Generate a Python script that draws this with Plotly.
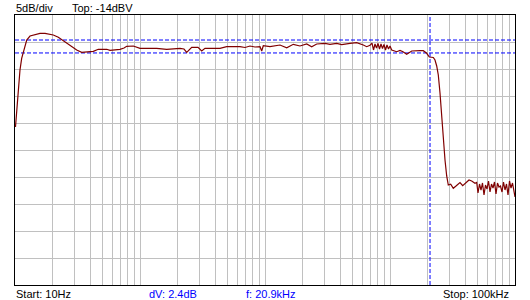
import plotly.graph_objects as go

# Frequency response (Hz, dBV)
freq_hz = [
    10.09, 10.28, 10.43, 10.63, 10.96, 11.31, 11.65, 12.02, 12.41, 13.18,
    14.01, 15.85, 17.38, 19.05, 20.25, 22.21, 24.34, 27.54, 31.16, 34.17,
    37.46, 42.31, 46.39, 54.15, 57.54, 63.10, 69.18, 74.47, 78.27, 88.41,
    100, 136.0, 163.5, 208.9, 224.9, 236.4, 259.2, 291.1, 311.6, 331.1,
    436.5, 493.8, 631, 691.8, 758.6, 831.8, 912, 941, 969, 1096,
    1318, 1492, 1585, 1684, 1905, 2156, 2363, 2592, 3020, 3311,
    3747, 4108, 4786, 5415, 6115, 6510, 6918, 7178, 7379, 7586,
    7798, 8017, 8241, 8472, 8710, 8954, 9204, 9462, 9727, 10000,
    10318, 11315, 12023, 12706, 13600, 14914, 17378, 18470, 19667, 20630,
    22208, 22909, 23637, 24343, 25119, 25918, 26694, 27542, 28414, 29264,
    30589, 32086, 33729, 36308, 38157, 41074, 42855, 45028, 47863, 49385,
    50580, 52000, 53460, 54950, 56490, 58080, 59700, 61380, 63100, 64860,
    66680, 68550, 70470, 72440, 74470, 76560, 78700, 80910, 83180, 85510,
    87900, 90360, 92900, 95500, 98170, 100000,
]
level_dbv = [
    -34.74, -31.96, -29.74, -27.28, -24.19, -22.02, -20.80, -19.56, -18.63, -17.89,
    -17.70, -17.39, -17.39, -17.52, -17.70, -18.13, -18.76, -19.56, -20.48, -20.91,
    -20.85, -20.72, -20.35, -20.35, -20.54, -20.43, -20.35, -20.11, -19.80, -19.74,
    -20.17, -20.17, -20.35, -20.17, -20.30, -20.91, -19.98, -19.98, -20.67, -20.17,
    -20.17, -19.87, -19.87, -20.02, -19.74, -19.93, -19.87, -20.67, -19.69, -19.87,
    -19.56, -20.06, -19.74, -19.43, -19.74, -19.37, -19.87, -19.37, -19.24, -19.43,
    -19.24, -19.50, -19.24, -19.13, -19.56, -19.87, -19.61, -19.19, -20.48, -19.37,
    -20.11, -19.28, -20.30, -19.37, -20.20, -19.46, -20.48, -19.56, -20.30, -19.74,
    -20.48, -20.80, -20.57, -20.80, -21.28, -20.67, -20.61, -20.61, -21.09, -21.78,
    -21.87, -22.33, -23.44, -25.11, -28.44, -32.89, -37.15, -40.85, -43.81, -45.48,
    -45.35, -46.09, -45.67, -45.02, -45.61, -44.87, -44.56, -44.74, -45.17, -45.02,
    -46.96, -45.30, -46.41, -45.11, -47.33, -45.48, -46.22, -44.74, -46.78, -45.30,
    -46.04, -44.93, -47.15, -45.11, -45.85, -45.67, -46.78, -44.93, -46.41, -45.30,
    -47.33, -44.74, -46.04, -45.11, -46.96, -47.70,
]

# Display settings / cursors
top_dbv = -14
db_per_div = 5
n_div = 10
f_start = 10
f_stop = 100000
cursor_upper_dbv = -18.63
cursor_delta_db = 2.4
cursor_freq_hz = 20900

bottom_dbv = top_dbv - db_per_div * n_div
grid_freqs = [m * 10 ** d for d in range(1, 5) for m in range(1, 10)] + [f_stop]

fig = go.Figure()

cursor_style = dict(color="#0000ff", width=1, dash="4px,2px")
for yv in (cursor_upper_dbv, cursor_upper_dbv - cursor_delta_db):
    fig.add_trace(go.Scatter(x=[f_start, f_stop], y=[yv, yv], mode="lines",
                             line=cursor_style, hoverinfo="skip", showlegend=False))
fig.add_trace(go.Scatter(x=[cursor_freq_hz, cursor_freq_hz], y=[bottom_dbv, top_dbv],
                         mode="lines", line=cursor_style, hoverinfo="skip", showlegend=False))

fig.add_trace(go.Scatter(x=freq_hz, y=level_dbv, mode="lines",
                         line=dict(color="#800000", width=1.2), showlegend=False))

fig.update_xaxes(type="log", range=[1, 5], tickvals=grid_freqs, showticklabels=False,
                 ticks="", showgrid=True, gridcolor="#c0c0c0", gridwidth=1,
                 showline=True, linecolor="black", linewidth=1, mirror=True, zeroline=False)
fig.update_yaxes(range=[bottom_dbv, top_dbv], tick0=top_dbv, dtick=db_per_div,
                 showticklabels=False, ticks="", showgrid=True, gridcolor="#c0c0c0",
                 gridwidth=1, showline=True, linecolor="black", linewidth=1, mirror=True,
                 zeroline=False)

font = dict(family="Liberation Sans, Arial, sans-serif", size=11, color="black")
blue_font = dict(font, color="#0000ff")


def label(text, px, py, anchor="left", f=font):
    fig.add_annotation(text=text, xref="paper", yref="paper",
                       x=(px - 15) / 500, y=(285 - py) / 270,
                       xanchor=anchor, yanchor="middle", showarrow=False, font=f,
                       borderpad=0, borderwidth=0)


label("5dB/div", 15.5, 7.5)
label(f"Top: {top_dbv}dBV", 71.5, 7.5)
label("Start: 10Hz", 15.5, 293.5)
label(f"dV: {cursor_delta_db}dB", 149, 293.5, f=blue_font)
label(f"f: {cursor_freq_hz / 1000:.1f}kHz", 246, 293.5, f=blue_font)
label("Stop: 100kHz", 508.5, 293.5, anchor="right")

fig.update_layout(width=530, height=300, margin=dict(l=15, r=15, t=15, b=15),
                  paper_bgcolor="white", plot_bgcolor="white")

fig.write_html("out.html")
